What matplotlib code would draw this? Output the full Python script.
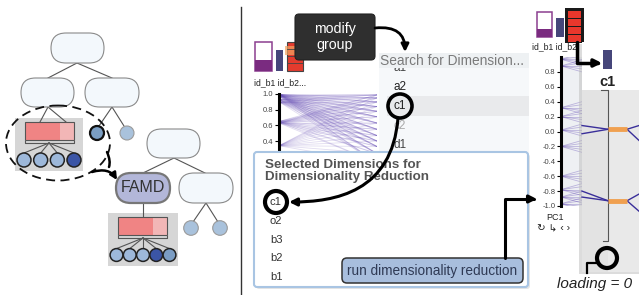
import numpy as np
import matplotlib
matplotlib.use("Agg")
import matplotlib.pyplot as plt
from matplotlib.patches import FancyBboxPatch, Rectangle, Circle, Ellipse, FancyArrowPatch
from matplotlib.path import Path

plt.rcParams["font.family"] = ["Liberation Sans", "DejaVu Sans"]
plt.rcParams["axes.unicode_minus"] = False

W, H = 639, 295

# ============================================================
# DATA
# ============================================================
LIGHT, MID, DARK = "#9db8da", "#7b9dc4", "#3b55a6"
leaf_before = [LIGHT, LIGHT, LIGHT, DARK]
leaf_after = [LIGHT, LIGHT, LIGHT, DARK, MID]
bar_share = [0.72, 0.28]            # red / pink part of the group bar
famd_label = "FAMD"

search_items = ["a1", "a2", "c1", "c2", "d1"]
search_colors = ["#444", "#222", "#222", "#aaa", "#444"]
selected_dims = ["c1", "o2", "b3", "b2", "b1"]

glyph_label = "id_b1 id_b2..."
glyph_label_right = "id_b1 id_b2."

left_ticks = [0.4, 0.6, 0.8, 1.0]
right_ticks = [-1.0, -0.8, -0.6, -0.4, -0.2, 0.0, 0.2, 0.4, 0.6, 0.8]

left_pc_start = [1.0, 0.99, 0.97, 0.93, 0.9, 0.65, 0.63, 0.34]
left_pc_end = [0.99, 0.95, 0.9, 0.84, 0.78, 0.71, 0.63, 0.55, 0.47, 0.4, 0.33, 0.24, 0.12]

right_pc_center = [0.97, 0.88, 0.32, 0.2, 0.02, -0.2, -0.6, -0.78, -0.88, -0.97]
right_pc_spread = [-0.08, -0.04, 0.0, 0.04, 0.08]

loading_level = [0.03, -0.93]
loading_in = [[0.08, -0.03], [-0.8, -0.88]]
loading_out = [[0.08, -0.12], [-0.84, -1.07]]


# ============================================================
# HELPERS
# ============================================================
fig = plt.figure(figsize=(W / 100, H / 100), dpi=100)


def px_axes(x0, y0, x1, y1, z):
    a = fig.add_axes([x0 / W, 1 - y1 / H, (x1 - x0) / W, (y1 - y0) / H], zorder=z)
    return a


def canvas(z):
    a = px_axes(0, 0, W, H, z)
    a.set_xlim(0, W)
    a.set_ylim(H, 0)
    a.axis("off")
    a.patch.set_alpha(0)
    return a


def pill(a, x, y, w, h, fc="#f3f8fc", ec="#8a8a8a", lw=0.8):
    a.add_patch(FancyBboxPatch((x, y), w, h, boxstyle=f"round,pad=0,rounding_size={h / 2}",
                               fc=fc, ec=ec, lw=lw, zorder=3))


def link(a, p, q):
    a.plot([p[0], q[0]], [p[1], q[1]], color="#555", lw=0.8, zorder=2)


def group(a, x, y, w, colors, r, span):
    a.add_patch(Rectangle((x, y), w, 53, fc="#d6d6d6", ec="none", zorder=1))
    bx, bw = x + 10, 49
    a.add_patch(Rectangle((bx, y + 4), bw * bar_share[0], 18, fc="#f08484", ec="none", zorder=3))
    a.add_patch(Rectangle((bx + bw * bar_share[0], y + 4), bw * bar_share[1], 18, fc="#f2b6b6",
                          ec="none", zorder=3))
    a.add_patch(Rectangle((bx, y + 4), bw, 18, fc="none", ec="#555", lw=0.8, zorder=4))
    a.plot([bx, bx, bx + bw, bx + bw], [y + 23, y + 25, y + 25, y + 23], color="#555", lw=0.8, zorder=3)
    cx = x + w / 2
    xs = np.linspace(cx - span / 2, cx + span / 2, len(colors))
    for xi, c in zip(xs, colors):
        link(a, (cx, y + 25), (xi, y + 42 - r))
        a.add_patch(Circle((xi, y + 42), r, fc=c, ec="#222", lw=1.1, zorder=4))
    return cx


def arrow(a, verts, codes, lw=2.0, ms=11, style="-|>"):
    a.add_patch(FancyArrowPatch(path=Path(verts, codes), arrowstyle=style, mutation_scale=ms,
                                lw=lw, color="black", zorder=20, shrinkA=0, shrinkB=0))


# ============================================================
# BASE LAYER (tree diagram, search list, glyphs)
# ============================================================
ax = canvas(0)
ax.plot([241, 241], [7, 295], color="#333", lw=1)

# tree 1
pill(ax, 51, 33, 53, 30)
pill(ax, 21, 78, 53, 29)
pill(ax, 85, 78, 54, 29)
link(ax, (77, 63), (48, 78))
link(ax, (77, 63), (112, 78))
link(ax, (48, 107), (40, 122))
link(ax, (48, 107), (66, 122))
group(ax, 15, 118, 68, leaf_before, 7, 50)
link(ax, (112, 107), (99, 126))
link(ax, (112, 107), (124, 126))
ax.add_patch(Circle((97, 133), 7, fc="#7b9ec3", ec="#111", lw=1.6, zorder=4))
ax.add_patch(Circle((127, 133), 7, fc="#a9c2dc", ec="#9a9a9a", lw=0.8, zorder=4))
ax.add_patch(Ellipse((58, 143), 104, 75, fc="none", ec="#111", lw=1.3, ls=(0, (5, 3)), zorder=5))

# tree 2
pill(ax, 147, 129, 53, 29)
pill(ax, 116, 173, 54, 30, fc="#b3b7d9", ec="#777", lw=1.6)
ax.text(143, 188, famd_label, ha="center", va="center", fontsize=11.5, color="#333", zorder=6)
pill(ax, 179, 173, 54, 30)
link(ax, (174, 158), (143, 173))
link(ax, (174, 158), (205, 173))
link(ax, (143, 203), (143, 217))
group(ax, 108, 213, 70, leaf_after, 6.4, 53)
link(ax, (206, 203), (193, 222))
link(ax, (206, 203), (218, 222))
ax.add_patch(Circle((191, 228), 7.3, fc="#a9c2dc", ec="#9a9a9a", lw=0.8, zorder=4))
ax.add_patch(Circle((220, 228), 7.3, fc="#a9c2dc", ec="#9a9a9a", lw=0.8, zorder=4))
arrow(ax, [(107, 152), (111, 161), (109, 167)], [Path.MOVETO, Path.CURVE3, Path.CURVE3],
      lw=1.8, style="-")
arrow(ax, [(92, 172), (109, 167), (117, 180)], [Path.MOVETO, Path.CURVE3, Path.CURVE3],
      lw=1.8, ms=10)

# glyphs above the left parallel coordinates
ax.add_patch(Rectangle((255, 42), 17, 29, fc="white", ec="#8b3f90", lw=1.1))
ax.add_patch(Rectangle((255, 60), 17, 11, fc="#7a2b80", ec="none"))
ax.add_patch(Rectangle((276, 50), 7, 21, fc="#46467a", ec="none"))
ax.add_patch(Rectangle((287, 42), 16, 29, fc="#e33b2e", ec="#444", lw=0.8))
for yy in (49, 56, 63):
    ax.plot([287, 303], [yy, yy], color="#444", lw=0.6)
ax.add_patch(Rectangle((285, 46), 10, 9, fc="#f4a460", ec="none", alpha=0.7))
ax.text(254, 83, glyph_label, fontsize=6.2, color="#222", va="center")

# search panel (list scrolled so that the first entry sits under the header)
ax.add_patch(Rectangle((379, 53), 150, 100, fc="#f6f8fa", ec="none", zorder=1))
ax.add_patch(Rectangle((387, 96), 142, 20, fc="#e9eaec", ec="none", zorder=2))
list_clip = Rectangle((379, 68), 150, 85, transform=ax.transData)
for item, c, yy in zip(search_items, search_colors, [68, 87, 106, 126, 145]):
    t = ax.text(393, yy, item, fontsize=8.5, color=c, va="center", zorder=3)
    t.set_clip_path(list_clip)
ax.add_patch(Rectangle((379, 53), 150, 15, fc="#eef1f3", ec="none", zorder=4))
ax.text(380, 61, "Search for Dimension...", fontsize=9.9, color="#7a7a7a", va="center", zorder=5)

# glyphs above the right parallel coordinates
ax.add_patch(Rectangle((537, 12), 15, 25, fc="white", ec="#8b3f90", lw=1.1))
ax.add_patch(Rectangle((537, 29), 15, 8, fc="#7a2b80", ec="none"))
ax.add_patch(Rectangle((556, 18), 8, 19, fc="#46467a", ec="none"))
ax.add_patch(Rectangle((565, 8), 19, 35, fc="#1a1a1a", ec="none"))
for yy in (11, 19, 27, 35):
    ax.add_patch(Rectangle((568, yy), 13, 7, fc="#e8372c", ec="none"))
ax.text(532, 47, glyph_label_right, fontsize=6.2, color="#222", va="center")
ax.text(555, 218, "PC1", fontsize=6.5, color="#222", ha="center", va="center")
ax.text(537, 228, "↻ ↳ ‹ ›", fontsize=7.5, color="#222", va="center")


# ============================================================
# PARALLEL COORDINATE AXES
# ============================================================
def pc_style(a, ticks):
    a.set_xlim(0, 1)
    a.patch.set_alpha(0)
    for s in ("top", "right", "bottom"):
        a.spines[s].set_visible(False)
    a.spines["left"].set_linewidth(2.2)
    a.set_xticks([])
    a.set_yticks(ticks)
    a.set_yticklabels([f"{t:.1f}" for t in ticks])
    a.tick_params(axis="y", length=3, width=0.8, labelsize=5.5, pad=1, labelcolor="#444")


lpc = px_axes(279, 94, 377, 152, 1)
lpc.set_ylim(0.26, 1.0)
pc_style(lpc, left_ticks)
for s0 in left_pc_start:
    for s1 in left_pc_end:
        lpc.plot([0, 1], [s0, s1], color="#5a3fb0", lw=0.6, alpha=0.18)

rpc = px_axes(561, 57, 582, 206, 1)
rpc.set_ylim(-1.0, 1.0)
pc_style(rpc, right_ticks)
rpc.axvspan(0.05, 1, color="#eef0f3", zorder=0)
for c in right_pc_center:
    for d in right_pc_spread:
        rpc.plot([0, 1], [c, c + d], color="#5a3fb0", lw=0.6, alpha=0.35)


# ============================================================
# OVERLAY (popups, callouts, arrows)
# ============================================================
ov = canvas(2)

# modify group callout
ov.add_patch(FancyBboxPatch((295, 14), 80, 46, boxstyle="round,pad=0,rounding_size=4",
                            fc="#2f2f2f", ec="#222", lw=0.8, zorder=5))
ov.text(335, 37, "modify\ngroup", fontsize=10.2, color="white", ha="center", va="center",
        linespacing=1.15, zorder=6)
arrow(ov, [(375, 28), (396, 26), (405, 34), (405, 52)],
      [Path.MOVETO, Path.CURVE4, Path.CURVE4, Path.CURVE4])

# selected dimensions popup
ov.add_patch(FancyBboxPatch((256, 154), 274, 135, boxstyle="round,pad=0,rounding_size=3",
                            fc="#cccccc", ec="none", alpha=0.5, zorder=4))
ov.add_patch(FancyBboxPatch((254, 152), 274, 135, boxstyle="round,pad=0,rounding_size=3",
                            fc="white", ec="#a9c5e3", lw=1.5, zorder=5))
ov.text(265, 171, "Selected Dimensions for\nDimensionality Reduction", fontsize=9.6, weight="bold",
        color="#555", va="center", linespacing=1.0, zorder=6)
for item, yy in zip(selected_dims, [202, 221, 240, 258, 277]):
    ov.text(270, yy, item, fontsize=8, color="#333", va="center", zorder=6)
ov.add_patch(FancyBboxPatch((342, 258), 181, 25, boxstyle="round,pad=0,rounding_size=5",
                            fc="#a8bedd", ec="#333", lw=1.1, zorder=6))
ov.text(432, 270.5, "run dimensionality reduction", fontsize=9.8, color="#2f3a55",
        ha="center", va="center", zorder=7)

# loading popup
ov.add_patch(Rectangle((579, 44), 62, 230, fc="#bbbbbb", ec="none", alpha=0.5, zorder=4))
ov.add_patch(Rectangle((582, 42), 58, 48, fc="white", ec="none", zorder=5))
ov.add_patch(Rectangle((582, 90), 26, 182, fc="#e3e3e3", ec="none", zorder=5))
ov.add_patch(Rectangle((608, 90), 32, 182, fc="#e9e9e9", ec="none", zorder=5))
ov.add_patch(Rectangle((603, 50), 9, 19, fc="#46467a", ec="none", zorder=6))
ov.text(607, 82, "c1", fontsize=10.5, weight="bold", color="#222", ha="center", va="center", zorder=6)
ov.plot([601, 608, 608, 603], [90, 90, 241, 241], color="#555", lw=0.8, zorder=6)
ov.add_patch(Circle((607, 258), 10, fc="none", ec="black", lw=3, zorder=8))
ov.plot([597, 587, 587], [263, 263, 273], color="black", lw=1.6, zorder=8)
ov.text(557, 284, "loading = 0", fontsize=11, style="italic", color="#222", va="center", zorder=8)

# highlight circles and connecting arrows
ov.add_patch(Circle((400, 106), 12, fc="none", ec="black", lw=2.6, zorder=20))
ov.add_patch(Circle((276, 202), 11, fc="none", ec="black", lw=3, zorder=20))
arrow(ov, [(398, 118), (392, 192), (335, 202), (289, 202)],
      [Path.MOVETO, Path.CURVE4, Path.CURVE4, Path.CURVE4], lw=2.2)
arrow(ov, [(505, 258), (505, 199), (537, 199)], [Path.MOVETO, Path.LINETO, Path.LINETO], lw=2.2)
arrow(ov, [(577, 42), (577, 63), (602, 63)], [Path.MOVETO, Path.LINETO, Path.LINETO], lw=2.5)

# loadings drawn on the PC1 scale
lp = px_axes(582, 57, 639, 206, 3)
lp.set_xlim(0, 1)
lp.set_ylim(-1.0, 1.0)
lp.axis("off")
lp.patch.set_alpha(0)
for lvl, ins, outs in zip(loading_level, loading_in, loading_out):
    for v in ins:
        lp.plot([0, 0.46], [v, lvl], color="#3a2f9a", lw=1, clip_on=False)
    for v in outs:
        lp.plot([0.79, 1], [lvl, v], color="#3a2f9a", lw=1, clip_on=False)
    lp.plot([0.46, 0.79], [lvl, lvl], color="#f0a050", lw=3.5, solid_capstyle="butt", clip_on=False)

fig.savefig("out.png", dpi=100)
